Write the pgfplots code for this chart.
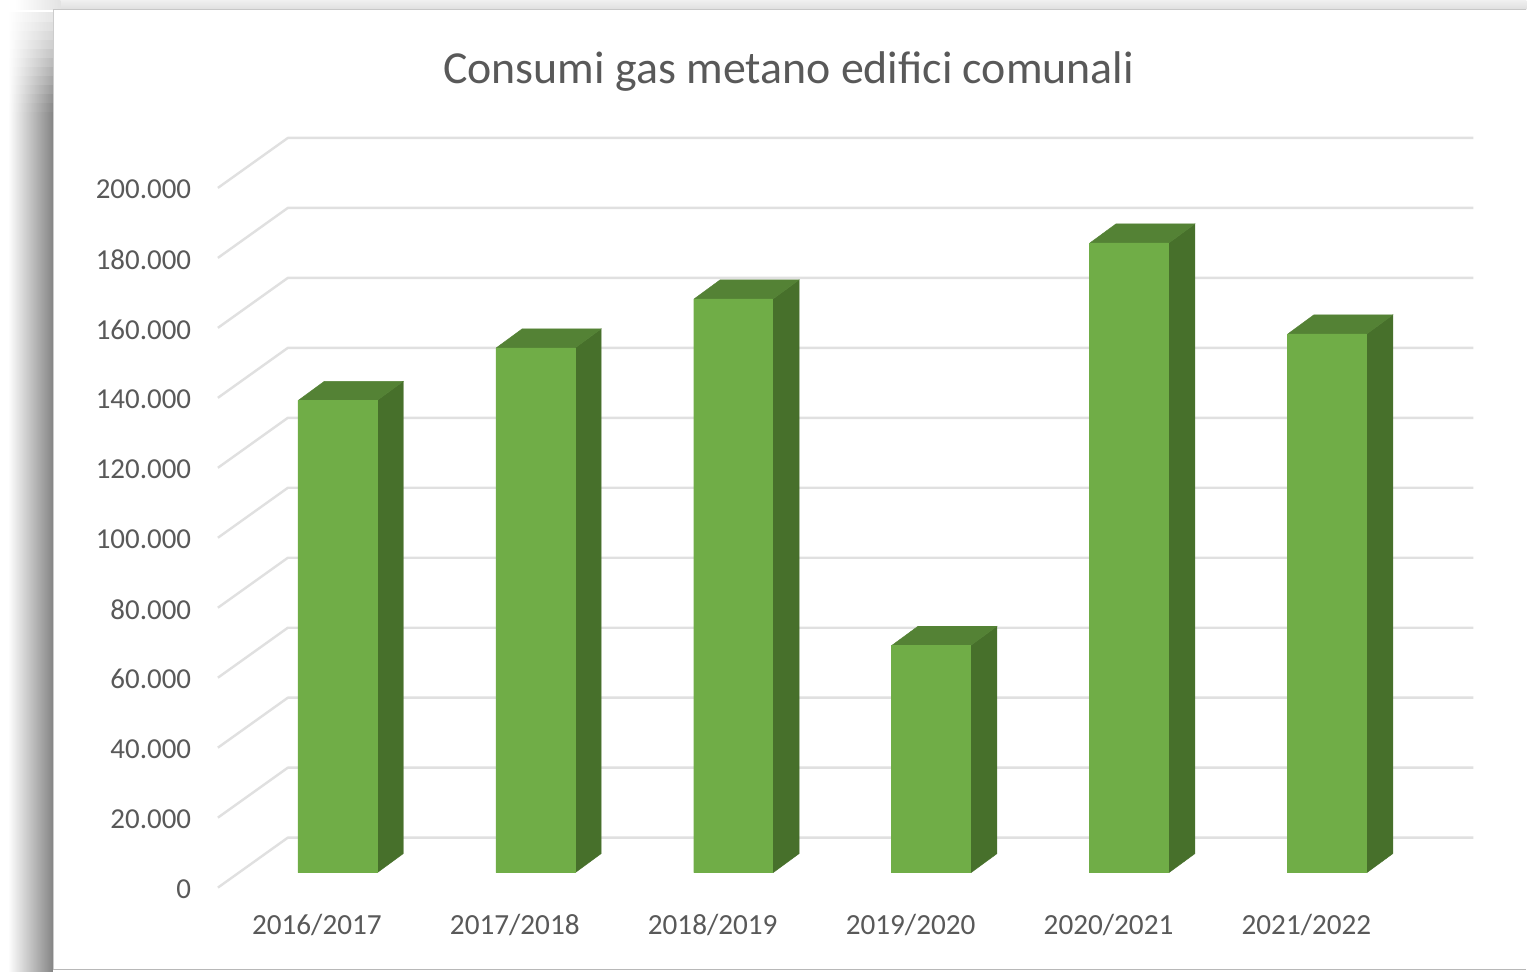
\documentclass[border=0pt]{standalone}
\usepackage{fontspec}
\setmainfont{Carlito}
\usepackage{pgfplots}
\pgfplotsset{compat=1.18}
\definecolor{front}{HTML}{70AD47}
\definecolor{topc}{HTML}{548235}
\definecolor{sidec}{HTML}{47702B}
\definecolor{gridc}{HTML}{E0E0E0}
\definecolor{txt}{HTML}{595959}
\begin{document}
\begin{tikzpicture}[x=0.75pt,y=0.75pt]
\path[fill=white] (0,0) rectangle (1527,972);
% card surroundings: top strip and left shadow
\shade[top color=white!94!black, bottom color=white!87!black] (60,962) rectangle (1527,972);
\shade[left color=white, right color=white!89!black] (15,962) rectangle (60.5,972);
\shade[left color=white, middle color=white!84!black, right color=white!52!black] (8,0) rectangle (53,860);
\foreach \yy/\dk in {860/54,869/57,878/61,887/65,896/69,905/73,914/77,923/81,932/84,941/87,950/90}{
  \pgfmathsetmacro{\mm}{100-(100-\dk)*0.33}
  \pgfmathsetmacro{\uu}{\yy}
  \shade[left color=white, middle color=white!\mm!black, right color=white!\dk!black] (8,\uu) rectangle (53,\uu+9.5);
}
\fill[white] (53,3) rectangle (1527,962);
\draw[line width=0.9pt, white!78!black] (53,962.5) -- (1527,962.5);
\draw[line width=1pt, white!72!black] (53,2) -- (1527,2);
\draw[line width=0.6pt, white!80!black] (53,3) -- (53,962);
\node[font=\fontsize{34.4pt}{40pt}\selectfont, text=txt] at (789,900.5) {Consumi gas metano edifici comunali};
\begin{axis}[
  at={(163.5pt,63pt)}, anchor=south west,
  scale only axis, width=891pt, height=525pt,
  xmin=-0.5, xmax=5.5, ymin=0, ymax=200000,
  clip=false,
  axis line style={draw=none},
  major tick length=0pt,
  xtick={0,1,2,3,4,5},
  xticklabels={2016/2017,2017/2018,2018/2019,2019/2020,2020/2021,2021/2022},
  ytick={0,20000,40000,60000,80000,100000,120000,140000,160000,180000,200000},
  scaled y ticks=false,
  /pgf/number format/.cd, fixed, 1000 sep={.}, assume math mode=true, /pgfplots/.cd,
  yticklabel style={font=\fontsize{21.7pt}{25pt}\selectfont, text=txt, anchor=east, xshift=-16.6pt, yshift=-1.2pt},
  xticklabel style={font=\fontsize{21.9pt}{25pt}\selectfont, text=txt, anchor=center, yshift=-27.7pt},
  unbounded coords=jump,
]
% gridlines: side wall and back wall
\addplot[gridc, line width=1.8pt, forget plot, line join=round] coordinates {
 (-0.5,0) (-0.1465,14286) (5.8434,14286) (0,nan)
 (-0.5,20000) (-0.1465,34286) (5.8434,34286) (0,nan)
 (-0.5,40000) (-0.1465,54286) (5.8434,54286) (0,nan)
 (-0.5,60000) (-0.1465,74286) (5.8434,74286) (0,nan)
 (-0.5,80000) (-0.1465,94286) (5.8434,94286) (0,nan)
 (-0.5,100000) (-0.1465,114286) (5.8434,114286) (0,nan)
 (-0.5,120000) (-0.1465,134286) (5.8434,134286) (0,nan)
 (-0.5,140000) (-0.1465,154286) (5.8434,154286) (0,nan)
 (-0.5,160000) (-0.1465,174286) (5.8434,174286) (0,nan)
 (-0.5,180000) (-0.1465,194286) (5.8434,194286) (0,nan)
 (-0.5,200000) (-0.1465,214286) (5.8434,214286)
};
% side faces
\addplot[fill=sidec, draw=sidec, line width=0.3pt, forget plot] coordinates {(0.3055,139286) (0.4365,144715) (0.4365,9715) (0.3055,4286)};
\addplot[fill=sidec, draw=sidec, line width=0.3pt, forget plot] coordinates {(1.3055,154286) (1.4365,159715) (1.4365,9715) (1.3055,4286)};
\addplot[fill=sidec, draw=sidec, line width=0.3pt, forget plot] coordinates {(2.3055,168286) (2.4365,173715) (2.4365,9715) (2.3055,4286)};
\addplot[fill=sidec, draw=sidec, line width=0.3pt, forget plot] coordinates {(3.3055,69286) (3.4365,74715) (3.4365,9715) (3.3055,4286)};
\addplot[fill=sidec, draw=sidec, line width=0.3pt, forget plot] coordinates {(4.3055,184286) (4.4365,189715) (4.4365,9715) (4.3055,4286)};
\addplot[fill=sidec, draw=sidec, line width=0.3pt, forget plot] coordinates {(5.3055,158286) (5.4365,163715) (5.4365,9715) (5.3055,4286)};
% top faces
\addplot[fill=topc, draw=topc, line width=0.3pt, forget plot] coordinates {(-0.0935,139286) (0.0375,144715) (0.4365,144715) (0.3055,139286)};
\addplot[fill=topc, draw=topc, line width=0.3pt, forget plot] coordinates {(0.9065,154286) (1.0375,159715) (1.4365,159715) (1.3055,154286)};
\addplot[fill=topc, draw=topc, line width=0.3pt, forget plot] coordinates {(1.9065,168286) (2.0375,173715) (2.4365,173715) (2.3055,168286)};
\addplot[fill=topc, draw=topc, line width=0.3pt, forget plot] coordinates {(2.9065,69286) (3.0375,74715) (3.4365,74715) (3.3055,69286)};
\addplot[fill=topc, draw=topc, line width=0.3pt, forget plot] coordinates {(3.9065,184286) (4.0375,189715) (4.4365,189715) (4.3055,184286)};
\addplot[fill=topc, draw=topc, line width=0.3pt, forget plot] coordinates {(4.9065,158286) (5.0375,163715) (5.4365,163715) (5.3055,158286)};
% front faces
\addplot[ybar, bar width=59.25pt, bar shift=15.4pt, yshift=11.25pt, fill=front, draw=front, line width=0.3pt] coordinates {
 (0,135000) (1,150000) (2,164000) (3,65000) (4,180000) (5,154000)};
\end{axis}
\end{tikzpicture}
\end{document}
